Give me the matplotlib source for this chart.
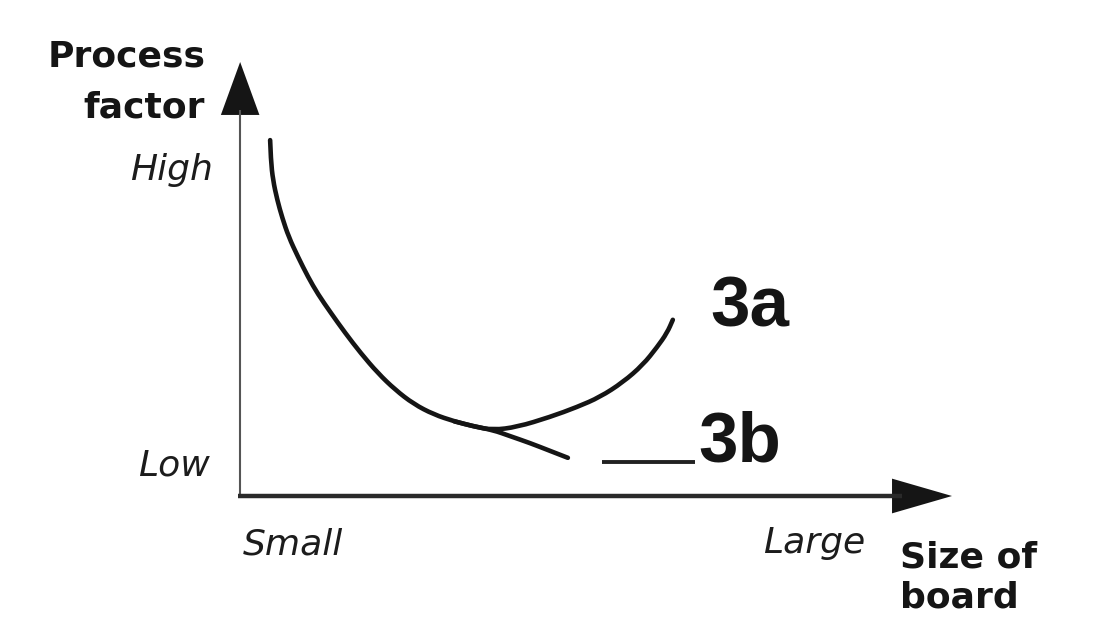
import matplotlib
matplotlib.use("Agg")
import matplotlib.pyplot as plt
from matplotlib.path import Path
from matplotlib.patches import PathPatch

# Shared falling branch (size of board vs. process factor, arbitrary 0-10 scale)
shared_x = [0.45, 0.46, 0.49, 0.55, 0.62, 0.71, 0.84, 0.98, 1.12, 1.30, 1.50,
            1.72, 1.96, 2.20, 2.46, 2.74, 3.03, 3.31, 3.57]
shared_y = [8.20, 7.74, 7.28, 6.82, 6.41, 5.97, 5.51, 5.05, 4.65, 4.22, 3.76,
            3.29, 2.83, 2.45, 2.12, 1.88, 1.72, 1.60, 1.52]

# Branch 3a: process factor rises again for large boards
branch_3a_x = [3.91, 4.37, 4.75, 5.07, 5.39, 5.67, 5.87, 6.01, 6.09]
branch_3a_y = [1.59, 1.82, 2.05, 2.28, 2.62, 3.02, 3.43, 3.76, 4.06]

# Branch 3b: process factor keeps falling
branch_3b_x = [3.81, 4.09, 4.37, 4.62]
branch_3b_y = [1.38, 1.22, 1.04, 0.88]

# Leader line to the 3b label
leader_x = [5.10, 6.40]
leader_y = [0.78, 0.78]

curve_labels = ["3a", "3b"]
y_tick_labels = ["High", "Low"]
x_tick_labels = ["Small", "Large"]
y_title = "Process\nfactor"
x_title = "Size of\nboard"

INK = "#151515"


def smooth_path(xs, ys):
    """Path through the points with rounded (quadratic) corners."""
    pts = list(zip(xs, ys))
    verts = [pts[0]]
    codes = [Path.MOVETO]
    for i in range(1, len(pts) - 1):
        mid = ((pts[i][0] + pts[i + 1][0]) / 2, (pts[i][1] + pts[i + 1][1]) / 2)
        verts += [pts[i], mid]
        codes += [Path.CURVE3, Path.CURVE3]
    verts.append(pts[-1])
    codes.append(Path.LINETO)
    return Path(verts, codes)


fig = plt.figure(figsize=(10.99, 6.19), dpi=100)
fig.patch.set_facecolor("white")
ax = fig.add_axes([238 / 1099, 123 / 619, 714 / 1099, 434 / 619])
ax.set_xlim(0, 10)
ax.set_ylim(0, 10)
ax.axis("off")

# Axes drawn as arrows
ax.plot([0.03, 0.03], [0, 8.9], color="#555555", lw=1.5, solid_capstyle="butt", clip_on=False)
ax.fill([-0.24, 0.30, 0.03], [8.78, 8.78, 10.0], color=INK, clip_on=False, lw=0)
ax.plot([0, 9.3], [0, 0], color="#2a2a2a", lw=3.2, solid_capstyle="butt", clip_on=False)
ax.fill([9.16, 9.16, 10.0], [-0.40, 0.40, 0], color=INK, clip_on=False, lw=0)

# Curves
curve_kw = dict(facecolor="none", edgecolor=INK, lw=3.3, capstyle="round",
                joinstyle="round", clip_on=False)
ax.add_patch(PathPatch(smooth_path(shared_x + branch_3a_x, shared_y + branch_3a_y), **curve_kw))
ax.add_patch(PathPatch(smooth_path(shared_x[-3:] + branch_3b_x, shared_y[-3:] + branch_3b_y), **curve_kw))
ax.plot(leader_x, leader_y, color="#222222", lw=2.8, solid_capstyle="butt", clip_on=False)

# Curve labels
label_kw = dict(family="Liberation Sans", weight="bold", fontsize=51, color=INK,
                va="center", ha="left", clip_on=False)
ax.text(6.62, 4.33, curve_labels[0], **label_kw)
ax.text(6.45, 1.22, curve_labels[1], **label_kw)

# Level and size labels
ital = dict(family="DejaVu Sans", style="italic", fontsize=26, color="#1c1c1c", clip_on=False)
ax.text(-0.35, 7.51, y_tick_labels[0], ha="right", va="center", **ital)
ax.text(-0.39, 0.71, y_tick_labels[1], ha="right", va="center", **ital)
ax.text(0.07, -1.11, x_tick_labels[0], ha="left", va="center", **ital)
ax.text(8.78, -1.08, x_tick_labels[1], ha="right", va="center", **ital)

# Axis titles
bold = dict(family="DejaVu Sans", weight="bold", fontsize=26, color=INK, clip_on=False)
ax.text(-0.46, 10.52, y_title, ha="right", va="top", linespacing=1.62,
        multialignment="right", **bold)
ax.text(9.27, -1.02, x_title, ha="left", va="top", linespacing=1.22, **bold)

fig.savefig("out.png", dpi=100, facecolor="white")
